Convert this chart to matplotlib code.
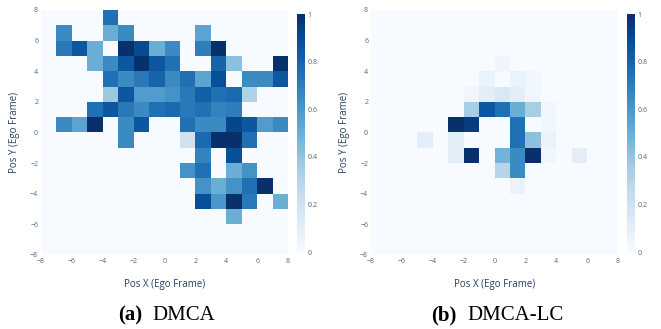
import numpy as np
import matplotlib.pyplot as plt

# grid cells: x and y bins from -8 to 8, width 1
edges = np.arange(-8, 9)

# DMCA: rows keyed by lower y edge, 16 values for x = -8 .. 7
dmca_rows = {
    7:  [0, 0, 0, 0, .75, 0, 0, 0, 0, 0, 0, 0, 0, 0, 0, 0],
    6:  [0, .65, 0, 0, .5, .65, 0, 0, 0, 0, .55, 0, 0, 0, 0, 0],
    5:  [0, .72, .85, .5, 0, 1.0, .9, .5, .65, 0, .7, 1.0, 0, 0, 0, 0],
    4:  [0, 0, 0, .5, .65, .85, 1.0, .85, .75, 0, 0, .8, .42, 0, 0, 1.0],
    3:  [0, 0, 0, 0, .75, .65, .72, .8, .65, .75, .55, .88, 0, .65, .65, .85],
    2:  [0, 0, 0, 0, .38, .85, .58, .58, .62, .72, .82, .75, .78, .32, 0, 0],
    1:  [0, 0, 0, .75, .85, .72, .65, .75, .78, .72, .75, .68, .7, 0, 0, 0],
    0:  [0, .65, .55, 1.0, 0, .65, .85, 0, 0, .75, .65, .65, .92, .85, .58, .65],
    -1: [0, 0, 0, 0, 0, .65, 0, 0, 0, .2, .78, 1.0, 1.0, .75, 0, 0],
    -2: [0, 0, 0, 0, 0, 0, 0, 0, 0, 0, .68, 0, .88, 0, 0, 0],
    -3: [0, 0, 0, 0, 0, 0, 0, 0, 0, .62, .75, 0, .5, .62, 0, 0],
    -4: [0, 0, 0, 0, 0, 0, 0, 0, 0, 0, .62, .5, .62, .75, 1.0, 0],
    -5: [0, 0, 0, 0, 0, 0, 0, 0, 0, 0, .88, .6, 1.0, .72, 0, .5],
    -6: [0, 0, 0, 0, 0, 0, 0, 0, 0, 0, 0, 0, .5, 0, 0, 0],
}

# DMCA-LC
dmca_lc_rows = {
    4:  [0, 0, 0, 0, 0, 0, 0, 0, .05, 0, 0, 0, 0, 0, 0, 0],
    3:  [0, 0, 0, 0, 0, 0, 0, .07, 0, .07, .04, 0, 0, 0, 0, 0],
    2:  [0, 0, 0, 0, 0, 0, .04, .1, .15, .1, .04, 0, 0, 0, 0, 0],
    1:  [0, 0, 0, 0, 0, 0, .35, .85, .75, .5, .35, .04, 0, 0, 0, 0],
    0:  [0, 0, 0, 0, 0, 1.0, .95, 0, 0, .75, 0, .04, 0, 0, 0, 0],
    -1: [0, 0, 0, .1, 0, .1, 0, 0, 0, .75, .42, .07, 0, 0, 0, 0],
    -2: [0, 0, 0, 0, 0, .1, 1.0, 0, .48, .65, 1.0, .04, 0, .1, 0, 0],
    -3: [0, 0, 0, 0, 0, 0, 0, 0, .3, .65, 0, 0, 0, 0, 0, 0],
    -4: [0, 0, 0, 0, 0, 0, 0, 0, 0, .07, 0, 0, 0, 0, 0, 0],
}

panels = [("(a)", "DMCA", dmca_rows), ("(b)", "DMCA-LC", dmca_lc_rows)]


def to_grid(rows):
    grid = np.zeros((16, 16))
    for y, vals in rows.items():
        grid[y + 8] = vals
    return grid


plt.rcParams['font.family'] = ['Open Sans', 'DejaVu Sans']
tick_col = '#506784'
title_col = '#2a3f5f'

fig = plt.figure(figsize=(6.61, 3.29), dpi=100)
lefts = [41 / 661, 371 / 661]
cb_lefts = [297 / 661, 627 / 661]

for i, (tag, name, rows) in enumerate(panels):
    ax = fig.add_axes([lefts[i], 0.225, 0.3737, 0.7447])
    mesh = ax.pcolormesh(edges, edges, to_grid(rows), cmap='Blues', vmin=0, vmax=1)
    ax.set_xlim(-8, 8)
    ax.set_ylim(-8, 8)
    ax.set_xticks(np.arange(-8, 9, 2))
    ax.set_yticks(np.arange(-8, 9, 2))
    ax.tick_params(length=0, labelsize=5, labelcolor=tick_col, pad=2)
    for s in ax.spines.values():
        s.set_visible(False)
    ax.set_xlabel("Pos X (Ego Frame)", fontsize=7, color=title_col, labelpad=10)
    ax.set_ylabel("Pos Y (Ego Frame)", fontsize=7, color=title_col, labelpad=7)

    cax = fig.add_axes([cb_lefts[i], 0.234, 0.0121, 0.723])
    cb = fig.colorbar(mesh, cax=cax, ticks=[0, 0.2, 0.4, 0.6, 0.8, 1])
    cb.ax.set_yticklabels(["0", "0.2", "0.4", "0.6", "0.8", "1"])
    cb.outline.set_visible(False)
    cb.ax.tick_params(length=0, labelsize=5, labelcolor=tick_col, pad=2)

    cx = [147 / 661, 462 / 661][i]
    fig.text(cx - 5 / 661, 0.027, tag, ha='right', va='baseline', fontsize=15,
             family='Liberation Serif', weight='bold')
    fig.text(cx + 5 / 661, 0.027, name, ha='left', va='baseline', fontsize=15,
             family='Liberation Serif')

fig.savefig("out.png", dpi=100)
